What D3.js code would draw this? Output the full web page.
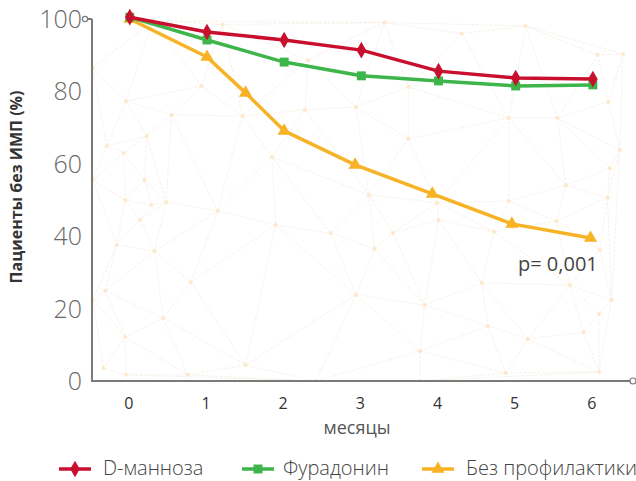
<!DOCTYPE html>
<html>
<head>
<meta charset="utf-8">
<script src="https://cdn.jsdelivr.net/npm/d3@7"></script>
<style>
  html, body { margin: 0; padding: 0; background: #fff; }
  svg { display: block; font-family: "Open Sans", "Noto Sans", sans-serif; }
</style>
</head>
<body>
<svg id="chart" width="636" height="481"></svg>
<script>
// Months of follow-up and share of patients without UTI (%)
const months = [0, 1, 2, 3, 4, 5, 6];
const mannoseValues = [100.5, 96.4, 94.2, 91.4, 85.6, 83.7, 83.4];
const nitrofurantoinValues = [100.5, 94.2, 88.1, 84.3, 82.9, 81.5, 81.8];
const noProphylaxisMonths = [0, 1, 1.5, 2, 2.92, 3.92, 4.95, 5.97];
const noProphylaxisValues = [100, 89.5, 79.6, 69.1, 59.7, 51.7, 43.4, 39.5];
const yTicks = [0, 20, 40, 60, 80, 100];
const seriesNames = ["D-манноза", "Фурадонин", "Без профилактики"];
const pValueLabel = "p= 0,001";

// Decorative mesh nodes (in month / percent units) for the background texture
const meshNodes = [
  [-0.48, 86.5], [-0.05, 77.3], [0.54, 73.5], [0.22, 67.7], [-0.30, 64.9], [-0.08, 63.0],
  [0.19, 55.5], [-0.06, 50.0], [0.28, 48.6], [0.47, 49.4], [0.13, 44.5], [0.93, 81.5],
  [1.46, 73.2], [1.84, 61.9], [1.14, 47.0], [2.31, 88.7], [2.27, 74.9], [1.89, 43.1],
  [5.13, 98.1], [6.06, 90.1], [6.39, 90.3], [2.93, 75.7], [3.61, 81.2], [4.91, 72.7],
  [5.54, 72.7], [6.20, 77.1], [3.61, 66.9], [6.35, 63.8], [4.91, 49.7], [5.65, 54.1],
  [6.22, 58.8], [6.19, 50.6], [3.10, 51.4], [3.98, 49.2], [4.00, 44.5], [5.53, 44.2],
  [4.72, 41.2], [3.41, 40.9], [2.60, 40.9], [-0.17, 37.6], [0.32, 35.9], [-0.32, 24.9],
  [0.79, 27.3], [0.43, 17.4], [-0.06, 12.2], [1.50, 4.4], [-0.34, 3.6], [-0.05, 1.7],
  [0.75, 1.7], [2.41, 0], [3.17, 36.5], [4.56, 27.1], [2.93, 23.8], [3.82, 21.0],
  [4.64, 15.2], [5.16, 11.6], [3.76, 8.3], [5.88, 13.5], [6.08, 18.5], [4.87, 2.2],
  [3.76, 0], [6.08, 2.5], [6.24, 22.4], [5.70, 26.5], [6.09, 36.2], [-0.48, 55.5],
  [-0.48, 22.4], [1.2, 98.5], [3.3, 99], [4.3, 96], [0.3, 99.5]
];

const colors = { red: "#c8102e", green: "#3db54a", yellow: "#f7b225" };

const svg = d3.select("#chart");

const x = d3.scaleLinear().domain([-0.49, 6.52]).range([92, 633]);
const y = d3.scaleLinear().domain([0, 100]).range([381, 19]);

// Background mesh
const meshLayer = svg.append("g");
const meshPts = meshNodes.map(d => [x(d[0]), y(d[1])]);
const delaunay = d3.Delaunay.from(meshPts);
meshLayer.append("path")
  .attr("d", delaunay.render())
  .attr("fill", "none")
  .attr("stroke", "#f5eee3")
  .attr("stroke-width", 0.8)
  .attr("stroke-dasharray", "3,1.5");
meshLayer.selectAll("circle")
  .data(meshPts)
  .join("circle")
  .attr("cx", d => d[0]).attr("cy", d => d[1])
  .attr("r", 2)
  .attr("fill", "#fde9c9");
svg.append("rect").attr("x", 0).attr("y", 381).attr("width", 636).attr("height", 100).attr("fill", "#fff");

// Axes
const axisColor = "#7a7a7a";
svg.append("line").attr("x1", 92).attr("x2", 92).attr("y1", y(100)).attr("y2", y(0))
  .attr("stroke", axisColor).attr("stroke-width", 2);
svg.append("line").attr("x1", 87).attr("x2", 92).attr("y1", y(100)).attr("y2", y(100))
  .attr("stroke", axisColor).attr("stroke-width", 2);
svg.append("circle").attr("cx", 85).attr("cy", y(100)).attr("r", 2.6)
  .attr("fill", "#fff").attr("stroke", axisColor).attr("stroke-width", 1.2);
svg.append("line").attr("x1", 91).attr("x2", x(6.52) - 3).attr("y1", y(0)).attr("y2", y(0))
  .attr("stroke", axisColor).attr("stroke-width", 2);
svg.append("circle").attr("cx", x(6.52)).attr("cy", y(0)).attr("r", 3)
  .attr("fill", "#fff").attr("stroke", axisColor).attr("stroke-width", 1.2);

// Y tick labels
svg.append("g").selectAll("text")
  .data(yTicks)
  .join("text")
  .attr("x", 82)
  .attr("y", d => y(d))
  .attr("dy", "0.36em")
  .attr("text-anchor", "end")
  .attr("font-size", 25)
  .attr("font-weight", 300)
  .attr("fill", "#6a6a6a")
  .text(d => d);

// X tick labels
svg.append("g").selectAll("text")
  .data(months)
  .join("text")
  .attr("x", d => x(d) - 1)
  .attr("y", 409)
  .attr("text-anchor", "middle")
  .attr("font-size", 16)
  .attr("fill", "#333")
  .text(d => d);

svg.append("text")
  .attr("x", 357).attr("y", 434)
  .attr("text-anchor", "middle")
  .attr("font-size", 18)
  .attr("fill", "#555")
  .text("месяцы");

svg.append("text")
  .attr("transform", "translate(22,187) rotate(-90)")
  .attr("text-anchor", "middle")
  .attr("font-size", 16)
  .attr("font-weight", 700)
  .attr("fill", "#333")
  .text("Пациенты без ИМП (%)");

// Series
const series = [
  { name: seriesNames[0], xs: months, ys: mannoseValues, color: colors.red, symbol: d3.symbolDiamond, size: 80 },
  { name: seriesNames[1], xs: months, ys: nitrofurantoinValues, color: colors.green, symbol: d3.symbolSquare, size: 80 },
  { name: seriesNames[2], xs: noProphylaxisMonths, ys: noProphylaxisValues, color: colors.yellow, symbol: d3.symbolTriangle, size: 75 }
];

const line = d3.line().x(d => x(d[0])).y(d => y(d[1]));

// no-prophylaxis drawn first, mannose last (on top)
[series[2], series[1], series[0]].forEach(s => {
  const pts = s.xs.map((m, i) => [m, s.ys[i]]);
  const g = svg.append("g");
  g.append("path")
    .attr("d", line(pts))
    .attr("fill", "none")
    .attr("stroke", s.color)
    .attr("stroke-width", 3.5)
    .attr("stroke-linejoin", "round");
  g.selectAll("path.pt")
    .data(pts)
    .join("path")
    .attr("class", "pt")
    .attr("transform", d => `translate(${x(d[0])},${y(d[1])})`)
    .attr("d", d3.symbol().type(s.symbol).size(s.size))
    .attr("fill", s.color);
});

// p-value annotation
svg.append("text")
  .attr("x", 518).attr("y", 271)
  .attr("font-size", 20)
  .attr("fill", "#444")
  .text(pValueLabel);

// Legend
const legendItems = [
  { s: series[0], lx: 59, tx: 103 },
  { s: series[1], lx: 242, tx: 283 },
  { s: series[2], lx: 422, tx: 466 }
];
const legend = svg.append("g");
legendItems.forEach(item => {
  const ly = 469;
  legend.append("line")
    .attr("x1", item.lx).attr("x2", item.lx + 32)
    .attr("y1", ly).attr("y2", ly)
    .attr("stroke", item.s.color).attr("stroke-width", 3.5);
  legend.append("path")
    .attr("transform", `translate(${item.lx + 16},${ly})`)
    .attr("d", d3.symbol().type(item.s.symbol).size(item.s.size))
    .attr("fill", item.s.color);
  legend.append("text")
    .attr("x", item.tx).attr("y", 475)
    .attr("font-size", 20)
    .attr("font-weight", 300)
    .attr("fill", "#444")
    .text(item.s.name);
});
</script>
</body>
</html>
